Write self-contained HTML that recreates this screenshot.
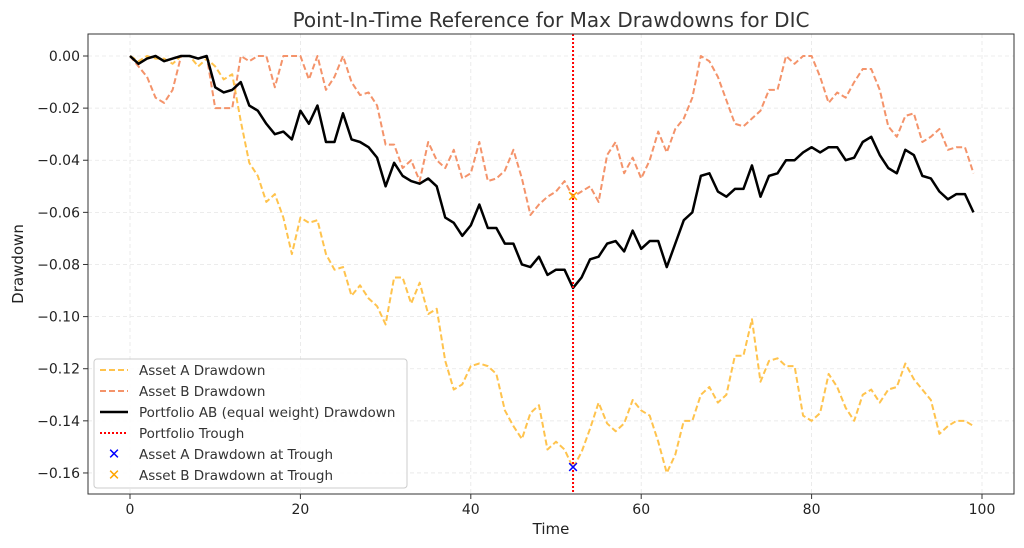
<!DOCTYPE html>
<html><head><meta charset="utf-8"><style>
body{margin:0;background:#fff;}
svg{display:block;font-family:"DejaVu Sans","Liberation Sans",sans-serif;}
</style></head><body>
<svg id="s" width="1024" height="548" viewBox="0 0 1024 548">
<rect width="1024" height="548" fill="#fff"/>
<text x="551" y="27" text-anchor="middle" font-size="20" fill="#333">Point-In-Time Reference for Max Drawdowns for DIC</text>
<g id="grid" stroke="#e6e6e6" stroke-dasharray="4,3" stroke-width="0.8"></g>
<g id="ser"></g>
<rect x="88" y="34" width="926" height="460" fill="none" stroke="#333" stroke-width="1"/>
<g id="ticks" font-size="14" fill="#222"></g>
<text x="551" y="534" text-anchor="middle" font-size="15" fill="#222">Time</text>
<text x="23" y="264" text-anchor="middle" font-size="15" fill="#222" transform="rotate(-90 23 264)">Drawdown</text>
<g>
<rect x="94" y="359" width="313" height="129" rx="3" fill="#fff" fill-opacity="0.85" stroke="#ccc"/>
<line x1="100" y1="370" x2="128" y2="370" stroke="#ffc34d" stroke-width="2" stroke-dasharray="6,3"/>
<line x1="100" y1="391" x2="128" y2="391" stroke="#f4936a" stroke-width="2" stroke-dasharray="6,3"/>
<line x1="100" y1="412" x2="128" y2="412" stroke="#000" stroke-width="2.5"/>
<line x1="100" y1="433" x2="128" y2="433" stroke="#f00" stroke-width="2" stroke-dasharray="2,2"/>
<text x="114" y="459" text-anchor="middle" font-size="15" fill="#00f">✕</text>
<text x="114" y="480" text-anchor="middle" font-size="15" fill="#ffa500">✕</text>
<g font-size="13.5" fill="#333">
<text x="139" y="375">Asset A Drawdown</text>
<text x="139" y="396">Asset B Drawdown</text>
<text x="139" y="417">Portfolio AB (equal weight) Drawdown</text>
<text x="139" y="438">Portfolio Trough</text>
<text x="139" y="459">Asset A Drawdown at Trough</text>
<text x="139" y="480">Asset B Drawdown at Trough</text>
</g></g>
</svg>
<script>
var A=[0,-.002,0,-.001,-.001,-.003,0,0,-.004,-.001,-.004,-.009,-.007,-.025,-.041,-.046,-.056,-.053,-.062,-.076,-.062,-.064,-.063,-.076,-.082,-.081,-.092,-.088,-.093,-.096,-.103,-.085,-.085,-.095,-.087,-.099,-.097,-.117,-.128,-.126,-.119,-.118,-.119,-.122,-.136,-.142,-.147,-.137,-.134,-.151,-.148,-.151,-.158,-.152,-.143,-.133,-.141,-.144,-.141,-.132,-.136,-.138,-.148,-.160,-.153,-.140,-.140,-.130,-.127,-.133,-.130,-.115,-.115,-.101,-.125,-.117,-.116,-.119,-.119,-.138,-.140,-.137,-.122,-.127,-.135,-.140,-.130,-.128,-.133,-.128,-.127,-.118,-.124,-.128,-.132,-.145,-.142,-.140,-.140,-.142];
var B=[0,-.004,-.008,-.016,-.018,-.013,0,0,-.001,0,-.020,-.020,-.020,0,-.002,0,0,-.012,0,0,0,-.009,0,-.013,-.008,0,-.010,-.015,-.014,-.019,-.034,-.034,-.043,-.040,-.048,-.033,-.040,-.043,-.036,-.047,-.045,-.033,-.048,-.047,-.044,-.036,-.047,-.061,-.057,-.054,-.052,-.048,-.054,-.052,-.050,-.056,-.038,-.033,-.045,-.039,-.047,-.040,-.029,-.037,-.028,-.024,-.016,0,-.002,-.008,-.017,-.026,-.027,-.024,-.021,-.013,-.013,0,-.003,0,0,-.008,-.018,-.014,-.016,-.010,-.005,-.005,-.013,-.027,-.031,-.023,-.022,-.033,-.031,-.028,-.036,-.035,-.035,-.045];
var P=[0,-.003,-.001,0,-.002,-.001,0,0,-.001,0,-.012,-.014,-.013,-.010,-.019,-.021,-.026,-.030,-.029,-.032,-.021,-.026,-.019,-.033,-.033,-.022,-.032,-.033,-.035,-.039,-.050,-.041,-.046,-.048,-.049,-.047,-.050,-.062,-.064,-.069,-.065,-.057,-.066,-.066,-.072,-.072,-.080,-.081,-.077,-.084,-.082,-.082,-.089,-.085,-.078,-.077,-.072,-.071,-.075,-.067,-.074,-.071,-.071,-.081,-.072,-.063,-.060,-.046,-.045,-.052,-.054,-.051,-.051,-.042,-.054,-.046,-.045,-.040,-.040,-.037,-.035,-.037,-.035,-.035,-.040,-.039,-.033,-.031,-.038,-.043,-.045,-.036,-.038,-.046,-.047,-.052,-.055,-.053,-.053,-.060];
var NS="http://www.w3.org/2000/svg";
function X(i){return 130+i*8.52;} function Y(v){return 56-v*2606;}
function el(p,t,a){var e=document.createElementNS(NS,t);for(var k in a)e.setAttribute(k,a[k]);p.appendChild(e);return e;}
var g=document.getElementById('grid'),tk=document.getElementById('ticks'),s=document.getElementById('ser');
for(var i=0;i<=100;i+=20){var x=X(i);el(g,'line',{x1:x,y1:34,x2:x,y2:494});el(tk,'line',{x1:x,y1:494,x2:x,y2:499,stroke:'#333'});var t=el(tk,'text',{x:x,y:514,'text-anchor':'middle'});t.textContent=i;}
for(var j=0;j<=8;j++){var v=-0.02*j,y=Y(v);el(g,'line',{x1:88,y1:y,x2:1014,y2:y});el(tk,'line',{x1:83,y1:y,x2:88,y2:y,stroke:'#333'});var t=el(tk,'text',{x:80,y:y+5,'text-anchor':'end'});t.textContent=(j==0?'0.00':'\u2212'+(0.02*j).toFixed(2));}
function pl(d,c,w,da){el(s,'polyline',{points:d.map(function(v,i){return X(i)+','+Y(v)}).join(' '),fill:'none',stroke:c,'stroke-width':w,'stroke-dasharray':da||'none','stroke-linejoin':'round'});}
pl(A,'#ffc34d',2,'6,3');pl(B,'#f4936a',2,'6,3');pl(P,'#000',2.5);
el(s,'line',{x1:X(52),y1:34,x2:X(52),y2:494,stroke:'#f00','stroke-width':2,'stroke-dasharray':'2,2'});
var m=el(s,'text',{x:X(52),y:Y(-.054)+5,'text-anchor':'middle','font-size':15,fill:'#ffa500'});m.textContent='✕';
m=el(s,'text',{x:X(52),y:Y(-.158)+5,'text-anchor':'middle','font-size':15,fill:'#00f'});m.textContent='✕';
</script>
</body></html>
